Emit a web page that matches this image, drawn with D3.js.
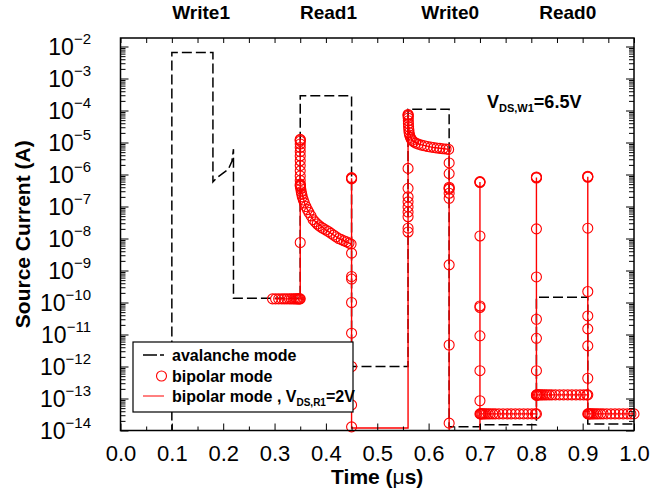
<!DOCTYPE html>
<html>
<head>
<meta charset="utf-8">
<script src="https://cdn.jsdelivr.net/npm/d3@7"></script>
<style>
  html, body { margin: 0; padding: 0; background: #fff; }
  svg { display: block; }
  text { font-family: "Liberation Sans", Arial, Helvetica, sans-serif; }
</style>
</head>
<body>
<svg id="chart" width="652" height="502"></svg>
<script>
// ---- Data -------------------------------------------------------------
// Avalanche-mode source current (A) vs time (us)
const avalancheTime = [0.10, 0.10, 0.18, 0.18, 0.188, 0.21, 0.217, 0.22, 0.22, 0.35, 0.35, 0.45, 0.45,
  0.56, 0.56, 0.64, 0.64, 0.70, 0.70, 0.81, 0.81, 0.91, 0.91, 1.00];
const avalancheCurrent = [1e-15, 6.5e-3, 6.5e-3, 5.9e-7, 8e-7, 1.45e-6, 2.6e-6, 6.2e-6, 1.35e-10, 1.35e-10, 2.9e-4, 2.9e-4, 1.0e-12,
  1.0e-12, 1.1e-4, 1.1e-4, 1.3e-14, 1.3e-14, 1.5e-14, 1.5e-14, 1.45e-10, 1.45e-10, 1.6e-14, 1.6e-14];

// Bipolar mode (circles), Read1 phase
const read1Time = [0.296, 0.302, 0.308, 0.314, 0.319, 0.324, 0.329, 0.333, 0.337, 0.340, 0.343, 0.345, 0.347, 0.349,
  0.35, 0.35, 0.35, 0.35, 0.35, 0.35, 0.35, 0.35, 0.35, 0.35, 0.35, 0.35, 0.35, 0.35, 0.35, 0.35,
  0.3502, 0.3505, 0.351, 0.352, 0.353, 0.354, 0.356, 0.358, 0.361, 0.364, 0.367, 0.371, 0.375, 0.379, 0.383,
  0.387, 0.391, 0.395, 0.400, 0.405, 0.410, 0.415, 0.420, 0.425, 0.430, 0.435, 0.440, 0.445, 0.449,
  0.45, 0.45, 0.45, 0.45, 0.45, 0.45, 0.45, 0.45, 0.45, 0.45, 0.45];
const read1Current = [1.3e-10, 1.3e-10, 1.3e-10, 1.3e-10, 1.3e-10, 1.3e-10, 1.3e-10, 1.3e-10, 1.3e-10, 1.3e-10, 1.3e-10, 1.3e-10, 1.3e-10, 1.3e-10,
  1.3e-10, 7.5e-9, 4.4e-7, 5.0e-7, 6.5e-7, 9e-7, 1.3e-6, 1.9e-6, 2.7e-6, 3.8e-6, 5.2e-6, 7e-6, 9e-6, 1.1e-5, 1.2e-5, 1.25e-5,
  4.6e-7, 4.2e-7, 3.6e-7, 2.9e-7, 2.4e-7, 2.0e-7, 1.6e-7, 1.3e-7, 1.0e-7, 8.0e-8, 6.5e-8, 5.1e-8, 3.9e-8, 3.3e-8, 2.85e-8,
  2.5e-8, 2.25e-8, 2.05e-8, 1.85e-8, 1.65e-8, 1.45e-8, 1.28e-8, 1.13e-8, 1.0e-8, 9.2e-9, 8.5e-9, 7.9e-9, 7.2e-9, 6.7e-9,
  7.3e-7, 7.6e-7, 8.0e-7, 3.5e-9, 6.5e-10, 5.4e-10, 1.0e-10, 1.1e-11, 1.0e-12, 6.3e-14, 1.3e-14];

// Bipolar mode (circles), Write0 phase
const write0Time = [0.56, 0.56, 0.56, 0.56, 0.56, 0.56, 0.56, 0.56, 0.56,
  0.5600, 0.5601, 0.5602, 0.5603, 0.5605, 0.5607, 0.561, 0.5615, 0.562, 0.563, 0.5645, 0.566, 0.568, 0.571,
  0.575, 0.580, 0.586, 0.592, 0.598, 0.604, 0.610, 0.616, 0.622, 0.628, 0.634, 0.639,
  0.64, 0.64, 0.64, 0.64, 0.64, 0.64, 0.64, 0.64, 0.64, 0.64];
const write0Current = [1.6e-8, 2.1e-8, 4.8e-8, 6.7e-8, 9.7e-8, 1.4e-7, 2.0e-7, 3.7e-7, 1.55e-6,
  7.5e-5, 7.2e-5, 6.6e-5, 5.8e-5, 4.8e-5, 3.9e-5, 3.1e-5, 2.5e-5, 2.05e-5, 1.7e-5, 1.45e-5, 1.28e-5, 1.16e-5, 1.05e-5,
  9.6e-6, 8.9e-6, 8.3e-6, 7.9e-6, 7.5e-6, 7.2e-6, 6.95e-6, 6.75e-6, 6.55e-6, 6.4e-6, 6.25e-6, 6.1e-6,
  2.3e-6, 1.07e-6, 4.0e-7, 3.7e-7, 3.5e-7, 2.6e-7, 1.8e-7, 1.5e-9, 4.7e-12, 1.7e-14];

// Bipolar mode (circles), Read0 phase
const read0Time = [0.70, 0.70, 0.70, 0.70, 0.70, 0.70, 0.70, 0.70, 0.70,
  0.700, 0.701, 0.702, 0.704, 0.706, 0.709, 0.712, 0.716, 0.720, 0.725, 0.730, 0.737, 0.745, 0.753, 0.761, 0.769,
  0.777, 0.785, 0.793, 0.801, 0.808,
  0.81, 0.81, 0.81, 0.81, 0.81, 0.81, 0.81, 0.81, 0.81, 0.81,
  0.810, 0.811, 0.812, 0.814, 0.816, 0.819, 0.822, 0.826, 0.830, 0.835, 0.840, 0.847, 0.855, 0.863, 0.871,
  0.879, 0.887, 0.895, 0.902, 0.908,
  0.91, 0.91, 0.91, 0.91, 0.91, 0.91, 0.91, 0.91, 0.91, 0.91,
  0.910, 0.911, 0.912, 0.914, 0.916, 0.919, 0.922, 0.926, 0.930, 0.935, 0.940, 0.947, 0.955, 0.963, 0.971,
  0.979, 0.987, 0.994, 1.000];
const read0Current = [5.6e-7, 5.8e-7, 6.0e-7, 1.2e-8, 7.0e-11, 7.8e-11, 9.1e-12, 7.4e-13, 8.5e-14,
  3.3e-14, 3.3e-14, 3.3e-14, 3.3e-14, 3.3e-14, 3.3e-14, 3.3e-14, 3.3e-14, 3.3e-14, 3.3e-14, 3.3e-14, 3.3e-14, 3.3e-14, 3.3e-14, 3.3e-14, 3.3e-14,
  3.3e-14, 3.3e-14, 3.3e-14, 3.3e-14, 3.3e-14,
  7.8e-7, 8.1e-7, 8.4e-7, 2.0e-8, 6.3e-10, 3.0e-11, 7.6e-12, 7.4e-13, 1.25e-13, 3.3e-14,
  1.3e-13, 1.3e-13, 1.3e-13, 1.3e-13, 1.3e-13, 1.3e-13, 1.3e-13, 1.3e-13, 1.3e-13, 1.3e-13, 1.3e-13, 1.3e-13, 1.3e-13, 1.3e-13, 1.3e-13,
  1.3e-13, 1.3e-13, 1.3e-13, 1.3e-13, 1.3e-13,
  8.2e-7, 8.5e-7, 8.8e-7, 2.1e-8, 2.2e-10, 3.8e-11, 1.5e-11, 4.4e-12, 4.3e-13, 1.3e-13,
  3.3e-14, 3.3e-14, 3.3e-14, 3.3e-14, 3.3e-14, 3.3e-14, 3.3e-14, 3.3e-14, 3.3e-14, 3.3e-14, 3.3e-14, 3.3e-14, 3.3e-14, 3.3e-14, 3.3e-14,
  3.3e-14, 3.3e-14, 3.3e-14, 3.3e-14];

// Bipolar mode with V_DS,R1 = 2V (solid line)
const bipolar2VTime = [0.30, 0.35, 0.35, 0.35, 0.36, 0.375, 0.40, 0.425, 0.45, 0.45, 0.45, 0.56, 0.56, 0.562, 0.568,
  0.58, 0.61, 0.64, 0.64, 0.70, 0.70, 0.70, 0.81, 0.81, 0.81, 0.91, 0.91, 0.91, 1.00];
const bipolar2VCurrent = [1.3e-10, 1.3e-10, 1.25e-5, 4.2e-7, 1.05e-7, 3.9e-8, 1.85e-8, 1.0e-8, 6.7e-9, 7.6e-7, 1.2e-14, 1.2e-14, 7.5e-5, 2.05e-5, 1.16e-5,
  8.9e-6, 6.95e-6, 6.1e-6, 1e-15, 1e-15, 5.8e-7, 3.3e-14, 3.3e-14, 8.1e-7, 1.3e-13, 1.3e-13, 8.5e-7, 3.3e-14, 3.3e-14];

// Axis ticks and labels
const xMajorTicks = [0.0, 0.1, 0.2, 0.3, 0.4, 0.5, 0.6, 0.7, 0.8, 0.9, 1.0];
const xMinorTicks = [0.05, 0.15, 0.25, 0.35, 0.45, 0.55, 0.65, 0.75, 0.85, 0.95];
const yExponents = [-14, -13, -12, -11, -10, -9, -8, -7, -6, -5, -4, -3, -2];
const phaseNames = ["Write1", "Read1", "Write0", "Read0"];
const legendNames = ["avalanche mode", "bipolar mode", "bipolar mode , V"];

// ---- Layout -------------------------------------------------------------
const svg = d3.select("#chart");
const plotL = 120.5, plotR = 634, plotT = 38, plotB = 430.5;
const x = d3.scaleLinear().domain([0, 1]).range([plotL, plotR]);
const y = d3.scaleLog().domain([1e-14, Math.pow(10, -1.734)]).range([plotB, plotT]);
const red = "#ff0000";

svg.append("rect").attr("width", 652).attr("height", 502).attr("fill", "#fff");

svg.append("defs").append("clipPath").attr("id", "plotClip")
  .append("rect").attr("x", plotL).attr("y", plotT).attr("width", plotR - plotL).attr("height", plotB - plotT);

const plot = svg.append("g");

// avalanche mode: dashed black
const line = d3.line().x(d => x(d[0])).y(d => y(d[1]));
plot.append("path")
  .datum(d3.zip(avalancheTime, avalancheCurrent))
  .attr("clip-path", "url(#plotClip)")
  .attr("d", line)
  .attr("fill", "none").attr("stroke", "#000").attr("stroke-width", 1.5)
  .attr("stroke-dasharray", "10,4");

// bipolar mode, V_DS,R1 = 2V: solid red
plot.append("path")
  .datum(d3.zip(bipolar2VTime, bipolar2VCurrent))
  .attr("clip-path", "url(#plotClip)")
  .attr("d", line)
  .attr("fill", "none").attr("stroke", red).attr("stroke-width", 1.4);

// bipolar mode: open red circles
const circlePts = [].concat(d3.zip(read1Time, read1Current), d3.zip(write0Time, write0Current), d3.zip(read0Time, read0Current));
plot.selectAll("circle.bip").data(circlePts).join("circle")
  .attr("class", "bip")
  .attr("cx", d => x(d[0])).attr("cy", d => y(d[1])).attr("r", 5)
  .attr("fill", "none").attr("stroke", red).attr("stroke-width", 1.1);

// ---- Axes ---------------------------------------------------------------
const yMajor = yExponents.map(e => Math.pow(10, e));
const yMinor = [];
yExponents.forEach(e => { for (let m = 2; m <= 9; m++) { const v = m * Math.pow(10, e); if (v < y.domain()[1]) yMinor.push(v); } });

const axisStyle = g => { g.select(".domain").remove(); g.selectAll("line").attr("stroke", "#000").attr("stroke-width", 1); };

// left axis
const yAxisG = svg.append("g").attr("transform", `translate(${plotL},0)`)
  .call(d3.axisLeft(y).tickValues(yMajor).tickSize(-8).tickPadding(29.5).tickFormat(""))
  .call(axisStyle);
yAxisG.selectAll(".tick text").each(function (d) {
  const t = d3.select(this);
  const e = Math.round(Math.log10(d));
  t.attr("dy", null).attr("y", 8).attr("font-size", 23).attr("fill", "#000").attr("text-anchor", "end");
  t.append("tspan").text("10");
  t.append("tspan").attr("dy", -11.5).attr("font-size", 15).text("\u2212" + Math.abs(e));
});
svg.append("g").attr("transform", `translate(${plotL},0)`)
  .call(d3.axisLeft(y).tickValues(yMinor).tickSize(-5).tickFormat(""))
  .call(axisStyle);
// right axis
svg.append("g").attr("transform", `translate(${plotR},0)`)
  .call(d3.axisRight(y).tickValues(yMajor).tickSize(-8).tickFormat(""))
  .call(axisStyle);
svg.append("g").attr("transform", `translate(${plotR},0)`)
  .call(d3.axisRight(y).tickValues(yMinor).tickSize(-5).tickFormat(""))
  .call(axisStyle);

// bottom axis
const xAxisG = svg.append("g").attr("transform", `translate(0,${plotB})`)
  .call(d3.axisBottom(x).tickValues(xMajorTicks).tickSize(-7).tickFormat(d3.format(".1f")))
  .call(axisStyle);
xAxisG.selectAll(".tick text").attr("dy", null).attr("y", 30).attr("font-size", 22).attr("fill", "#000");
svg.append("g").attr("transform", `translate(0,${plotB})`)
  .call(d3.axisBottom(x).tickValues(xMinorTicks).tickSize(-4).tickFormat(""))
  .call(axisStyle);
// top axis
svg.append("g").attr("transform", `translate(0,${plotT})`)
  .call(d3.axisTop(x).tickValues(xMajorTicks.concat(xMinorTicks)).tickSize(-5).tickFormat(""))
  .call(axisStyle);

// frame
svg.append("rect").attr("x", plotL).attr("y", plotT).attr("width", plotR - plotL).attr("height", plotB - plotT)
  .attr("fill", "none").attr("stroke", "#000").attr("stroke-width", 1.5);

// axis titles
svg.append("text").attr("transform", `translate(30,${(plotT + plotB) / 2}) rotate(-90)`)
  .attr("text-anchor", "middle").attr("font-size", 21).attr("font-weight", "bold").text("Source Current (A)");
const xt = svg.append("text").attr("x", (plotL + plotR) / 2).attr("y", 484)
  .attr("text-anchor", "middle").attr("font-size", 21).attr("font-weight", "bold");
xt.append("tspan").text("Time (");
xt.append("tspan").attr("font-weight", "normal").text("\u03bc");
xt.append("tspan").text("s)");

// phase labels above the plot
const phaseLabelAt = [0.157, 0.405, 0.642, 0.871];
svg.selectAll("text.phase").data(phaseNames).join("text")
  .attr("class", "phase")
  .attr("x", (d, i) => x(phaseLabelAt[i])).attr("y", 19)
  .attr("text-anchor", "middle").attr("font-size", 19).attr("font-weight", "bold").text(d => d);

// V_DS,W1 annotation
const ann = svg.append("text").attr("x", 487).attr("y", 108).attr("font-size", 18).attr("font-weight", "bold");
ann.append("tspan").text("V");
ann.append("tspan").attr("font-size", 11).attr("dy", 4).text("DS,W1");
ann.append("tspan").attr("dy", -4).text("=6.5V");

// ---- Legend -------------------------------------------------------------
const lg = svg.append("g");
lg.append("rect").attr("x", 133).attr("y", 342).attr("width", 220).attr("height", 70)
  .attr("fill", "#fff").attr("stroke", "#000").attr("stroke-width", 1.2);
const rowY = [355, 376, 396];
lg.append("line").attr("x1", 143).attr("x2", 164).attr("y1", rowY[0]).attr("y2", rowY[0])
  .attr("stroke", "#000").attr("stroke-width", 1.5).attr("stroke-dasharray", "14,3");
lg.append("circle").attr("cx", 161.5).attr("cy", rowY[1]).attr("r", 5)
  .attr("fill", "none").attr("stroke", red).attr("stroke-width", 1.1);
lg.append("line").attr("x1", 143).attr("x2", 164).attr("y1", rowY[2]).attr("y2", rowY[2])
  .attr("stroke", red).attr("stroke-width", 1);
lg.selectAll("text.lg").data(legendNames).join("text")
  .attr("class", "lg")
  .attr("x", 172).attr("y", (d, i) => rowY[i] + 6)
  .attr("font-size", 16).attr("font-weight", "bold").text(d => d)
  .filter((d, i) => i === 2)
  .call(t => {
    t.append("tspan").attr("font-size", 10).attr("dy", 4).text("DS,R1");
    t.append("tspan").attr("dy", -4).text("=2V");
  });
</script>
</body>
</html>
